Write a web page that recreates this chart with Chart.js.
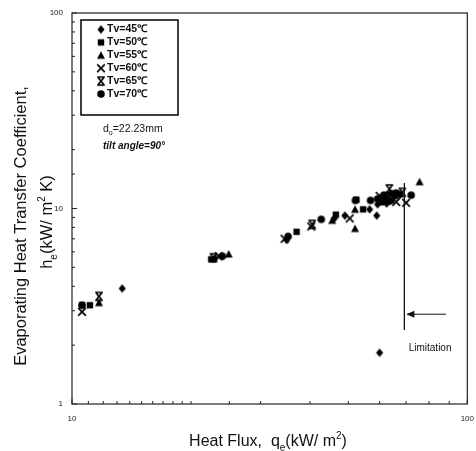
<!DOCTYPE html>
<html>
<head>
<meta charset="utf-8">
<script src="https://cdn.jsdelivr.net/npm/chart.js@4/dist/chart.umd.min.js"></script>
<style>
  html, body { margin: 0; padding: 0; background: #fff; }
  #wrap { width: 476px; height: 451px; }
</style>
</head>
<body>
<div id="wrap"><canvas id="chart" width="476" height="451"></canvas></div>
<script>
// values: [heat flux qe, h_e]
const tv45 = [[13.4, 3.9], [23.0, 5.55], [34.9, 6.9], [46.1, 8.9], [49.0, 9.2], [56.6, 9.9], [59.0, 9.2], [60.0, 1.83], [62.5, 10.6], [59.3, 10.5]];
const tv50 = [[10.6, 3.2], [11.1, 3.2], [22.5, 5.5], [37.0, 7.6], [46.5, 9.3], [54.5, 9.9], [61.6, 11.0], [64.2, 11.0], [52.4, 11.1]];
const tv55 = [[11.7, 3.3], [24.9, 5.85], [45.5, 8.7], [52.0, 9.9], [52.0, 7.9], [65.5, 11.6], [75.7, 13.7], [60.5, 10.8]];
const tv60 = [[10.6, 2.96], [23.5, 5.7], [34.5, 7.0], [40.3, 8.1], [50.4, 8.9], [66.1, 10.8], [70.0, 10.7], [60.0, 11.6]];
const tv65 = [[11.7, 3.55], [22.8, 5.6], [40.5, 8.3], [63.5, 12.6], [68.5, 12.1], [63.0, 11.4]];
const tv70 = [[10.6, 3.2], [24.0, 5.7], [35.2, 7.2], [42.7, 8.8], [52.1, 11.0], [56.9, 11.0], [59.3, 11.2], [61.6, 11.7], [64.2, 11.9], [66.0, 12.0], [67.3, 11.8], [72.1, 11.7], [63.5, 10.9]];

const seriesLabels = ["Tv=45\u2103", "Tv=50\u2103", "Tv=55\u2103", "Tv=60\u2103", "Tv=65\u2103", "Tv=70\u2103"];
const seriesKinds = ["diamond", "square", "triangle", "cross", "hourglass", "circle"];
const xTicks = [10, 100];
const yTicks = [1, 10, 100];

// limitation marker
const limitX = 69.3, limitTop = 13.5, limitBottom = 2.39;
const arrowY = 2.88, arrowFrom = 88.3;
const limitLabel = "Limitation", limitLabelX = 80.5, limitLabelY = 1.92;

function makeMarker(kind) {
  const size = 12;
  const c = document.createElement("canvas");
  c.width = c.height = size;
  const g = c.getContext("2d");
  g.fillStyle = "#000";
  g.strokeStyle = "#000";
  g.lineWidth = 1.7;
  const m = size / 2;
  g.beginPath();
  if (kind === "diamond") {
    g.moveTo(m, m - 4.2); g.lineTo(m + 3.6, m); g.lineTo(m, m + 4.2); g.lineTo(m - 3.6, m); g.closePath(); g.fill();
  } else if (kind === "square") {
    g.fillRect(m - 3.2, m - 3.2, 6.4, 6.4);
  } else if (kind === "triangle") {
    g.moveTo(m, m - 4); g.lineTo(m + 4, m + 3.5); g.lineTo(m - 4, m + 3.5); g.closePath(); g.fill();
  } else if (kind === "cross") {
    g.moveTo(m - 3.8, m - 3.8); g.lineTo(m + 3.8, m + 3.8);
    g.moveTo(m + 3.8, m - 3.8); g.lineTo(m - 3.8, m + 3.8); g.stroke();
  } else if (kind === "hourglass") {
    g.moveTo(m - 3.8, m - 4); g.lineTo(m + 3.8, m - 4);
    g.moveTo(m - 3.8, m + 4); g.lineTo(m + 3.8, m + 4);
    g.moveTo(m - 3.2, m - 4); g.lineTo(m + 3.2, m + 4);
    g.moveTo(m + 3.2, m - 4); g.lineTo(m - 3.2, m + 4); g.stroke();
  } else {
    g.arc(m, m, 3.8, 0, Math.PI * 2); g.fill();
  }
  return c;
}
const markers = seriesKinds.map(makeMarker);
const allSeries = [tv45, tv50, tv55, tv60, tv65, tv70];

const datasets = allSeries.map((s, i) => ({
  label: seriesLabels[i],
  data: s.map(p => ({ x: p[0], y: p[1] })),
  pointStyle: markers[i],
  pointRadius: 5,
  showLine: false
}));

function drawRich(ctx, parts, cx, cy, size) {
  const base = size + "px 'Liberation Sans', Arial, sans-serif";
  const small = Math.round(size * 0.62) + "px 'Liberation Sans', Arial, sans-serif";
  let w = 0;
  parts.forEach(p => { ctx.font = p.s ? small : base; w += ctx.measureText(p.t).width; });
  let x = cx - w / 2;
  ctx.textAlign = "left";
  ctx.textBaseline = "alphabetic";
  parts.forEach(p => {
    ctx.font = p.s ? small : base;
    let dy = 0;
    if (p.s === "sub") dy = size * 0.3;
    if (p.s === "sup") dy = -size * 0.42;
    ctx.fillText(p.t, x, cy + dy);
    x += ctx.measureText(p.t).width;
  });
}

const decor = {
  id: "decor",
  afterDraw(chart) {
    const ctx = chart.ctx;
    const a = chart.chartArea;
    const xs = chart.scales.x, ys = chart.scales.y;
    ctx.save();
    ctx.strokeStyle = "#222";
    ctx.fillStyle = "#000";
    ctx.lineWidth = 1.2;
    ctx.strokeRect(a.left, a.top, a.right - a.left, a.bottom - a.top);

    // inward ticks on left and bottom axes
    ctx.lineWidth = 1;
    ys.ticks.forEach(t => {
      const py = ys.getPixelForValue(t.value);
      const len = yTicks.includes(t.value) ? 5 : 3;
      ctx.beginPath(); ctx.moveTo(a.left, py); ctx.lineTo(a.left + len, py); ctx.stroke();
    });
    xs.ticks.forEach(t => {
      const px = xs.getPixelForValue(t.value);
      const len = xTicks.includes(t.value) ? 5 : 3;
      ctx.beginPath(); ctx.moveTo(px, a.bottom); ctx.lineTo(px, a.bottom - len); ctx.stroke();
    });

    // axis titles
    ctx.fillStyle = "#111";
    drawRich(ctx, [{ t: "Heat Flux,  q" }, { t: "e", s: "sub" }, { t: "(kW/ m" }, { t: "2", s: "sup" }, { t: ")" }], 268, 446, 16);
    ctx.save();
    ctx.translate(26, 226);
    ctx.rotate(-Math.PI / 2);
    drawRich(ctx, [{ t: "Evaporating Heat Transfer Coefficient," }], 0, 0, 16.5);
    ctx.restore();
    ctx.save();
    ctx.translate(52, 222);
    ctx.rotate(-Math.PI / 2);
    drawRich(ctx, [{ t: "h" }, { t: "e", s: "sub" }, { t: "(kW/ m" }, { t: "2", s: "sup" }, { t: " K)" }], 0, 0, 16.5);
    ctx.restore();

    // legend box
    const lx = a.left + 9, ly = a.top + 7;
    ctx.lineWidth = 1.5;
    ctx.strokeStyle = "#000";
    ctx.strokeRect(lx, ly, 97, 95);
    ctx.font = "bold 10.5px 'Liberation Sans', Arial, sans-serif";
    ctx.textBaseline = "middle";
    ctx.textAlign = "left";
    seriesLabels.forEach((lab, i) => {
      const ry = ly + 9.5 + i * 12.9;
      ctx.drawImage(markers[i], lx + 20 - 6, ry - 6);
      ctx.fillText(lab, lx + 26, ry);
    });

    // tube info
    ctx.font = "10.5px 'Liberation Sans', Arial, sans-serif";
    ctx.textBaseline = "alphabetic";
    let tx = a.left + 31;
    ctx.fillText("d", tx, a.top + 119);
    tx += ctx.measureText("d").width;
    ctx.font = "7px 'Liberation Sans', Arial, sans-serif";
    ctx.fillText("o", tx, a.top + 122);
    tx += ctx.measureText("o").width;
    ctx.font = "10.5px 'Liberation Sans', Arial, sans-serif";
    ctx.fillText("=22.23mm", tx, a.top + 119);
    ctx.font = "italic bold 10px 'Liberation Sans', Arial, sans-serif";
    ctx.fillText("tilt angle=90\u00b0", a.left + 31, a.top + 136);

    // limitation line and arrow
    const lxp = xs.getPixelForValue(limitX);
    ctx.lineWidth = 1.3;
    ctx.strokeStyle = "#111";
    ctx.beginPath();
    ctx.moveTo(lxp, ys.getPixelForValue(limitTop));
    ctx.lineTo(lxp, ys.getPixelForValue(limitBottom));
    ctx.stroke();
    const ay = ys.getPixelForValue(arrowY);
    const ax0 = xs.getPixelForValue(arrowFrom);
    ctx.lineWidth = 1;
    ctx.beginPath();
    ctx.moveTo(ax0, ay); ctx.lineTo(lxp + 3, ay); ctx.stroke();
    ctx.beginPath();
    ctx.moveTo(lxp + 2, ay); ctx.lineTo(lxp + 10, ay - 3.5); ctx.lineTo(lxp + 10, ay + 3.5); ctx.closePath(); ctx.fill();
    ctx.font = "10px 'Liberation Sans', Arial, sans-serif";
    ctx.textAlign = "center";
    ctx.textBaseline = "middle";
    ctx.fillText(limitLabel, xs.getPixelForValue(limitLabelX), ys.getPixelForValue(limitLabelY));
    ctx.restore();
  }
};

new Chart(document.getElementById("chart"), {
  type: "scatter",
  data: { datasets },
  options: {
    responsive: false,
    animation: false,
    layout: { padding: { top: 13, right: 1, left: 0, bottom: 0 } },
    plugins: { legend: { display: false }, tooltip: { enabled: false } },
    scales: {
      x: {
        type: "logarithmic",
        min: 10,
        max: 100,
        grid: { display: false },
        border: { display: false },
        afterFit: s => { s.height = 47; },
        ticks: {
          autoSkip: false,
          maxRotation: 0,
          padding: 2,
          color: "#222",
          font: { size: 8, family: "'Liberation Sans', Arial, sans-serif" },
          callback: v => (xTicks.includes(v) ? String(v) : "")
        }
      },
      y: {
        type: "logarithmic",
        min: 1,
        max: 100,
        grid: { display: false },
        border: { display: false },
        afterFit: s => { s.width = 72; },
        ticks: {
          autoSkip: false,
          padding: 1,
          color: "#222",
          font: { size: 8, family: "'Liberation Sans', Arial, sans-serif" },
          callback: v => (yTicks.includes(v) ? String(v) : "")
        }
      }
    }
  },
  plugins: [decor]
});
</script>
</body>
</html>
